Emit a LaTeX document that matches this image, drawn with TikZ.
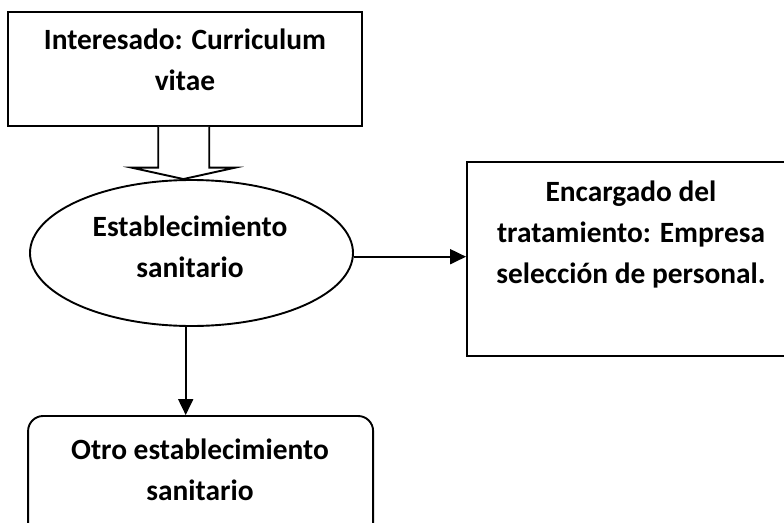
\documentclass[tikz,border=0pt]{standalone}
\usepackage{fontspec}
\setmainfont{Carlito}
\usetikzlibrary{arrows.meta,shapes.geometric,calc}
\tikzset{
  shape line/.style={draw=black,line width=1.9pt},
  boxshape/.style={shape line,rectangle,inner sep=0pt},
  txt/.style={font=\fontsize{29.4}{40.8}\selectfont\bfseries,align=center,anchor=base,inner sep=0pt},
  arr/.style={line width=1.9pt,-{Triangle[length=16pt,width=15pt]}},
  hollow/.style={line width=1.9pt,fill=white,line join=miter}
}
\begin{document}
\begin{tikzpicture}[x=1pt,y=-1pt]
\useasboundingbox (0,0) rectangle (784,522);
\clip (0,0) rectangle (784,522);
% shapes
\node[boxshape,minimum width=354pt,minimum height=114pt] (top) at (185,69) {};
\node[shape line,ellipse,inner sep=0pt,minimum width=323pt,minimum height=146pt] (ell) at (191.5,253) {};
\node[boxshape,minimum width=328pt,minimum height=194pt] (right) at (631,259) {};
\node[boxshape,rounded corners=15pt,minimum width=345pt,minimum height=130pt] (bot) at (200.6,481) {};
% hollow arrow from top box to ellipse
\coordinate (ha) at ($(top.south)+(-1.6,0)$);
\draw[hollow] ($(ha)+(-25.2,0)$) -- ++(0,40.7) -- ++(-26.6,0) -- (ha |- ell.north) -- ($(ha)+(51.8,40.7)$) -- ++(-26,0) -- ++(0,-40.7);
% connectors
\coordinate (e1) at ($(ell.east)+(0,3.7)$);
\draw[arr] (e1) -- (e1 -| right.west);
\coordinate (d1) at ($(ell.south)+(-5.8,0)$);
\draw[arr] (d1) -- (d1 |- bot.north);
% texts (anchored at the baseline of the last line)
\node[txt] (ttop) at (185,90.7) {Interesado: Curriculum\\vitae};
\node[txt] (tell) at (190,277.3) {Establecimiento\\sanitario};
\node[txt] (tright) at (631,283) {Encargado del\\tratamiento: Empresa\\selección de personal.};
\node[txt] (tbot) at (200,500) {Otro establecimiento\\sanitario};
\end{tikzpicture}
\end{document}
